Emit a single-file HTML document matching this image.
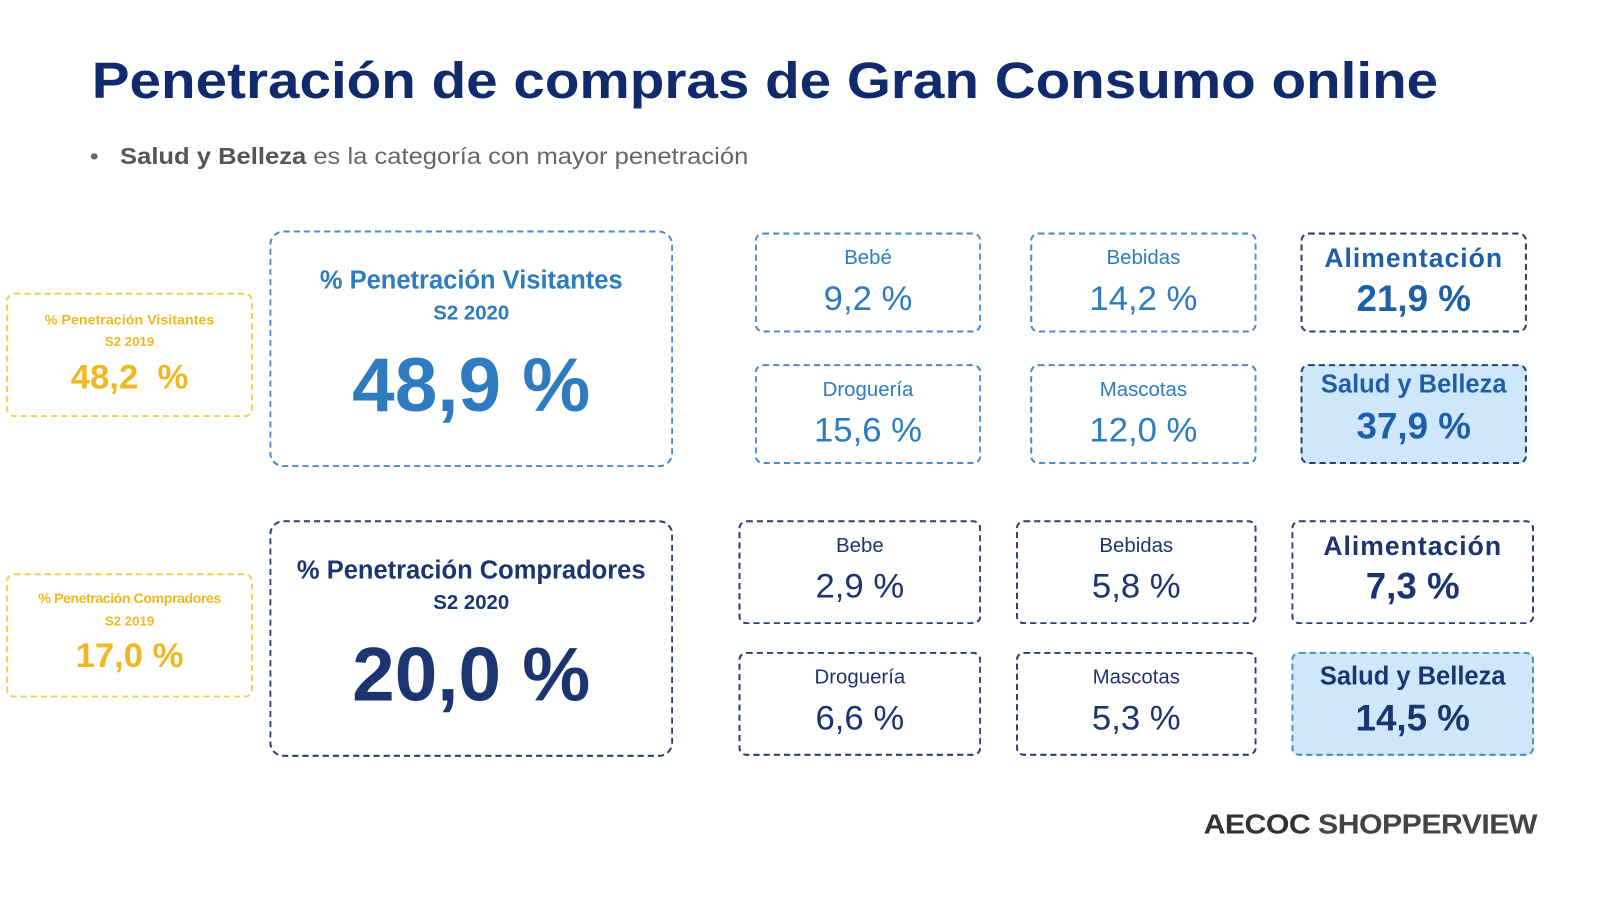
<!DOCTYPE html>
<html><head><meta charset="utf-8"><style>
body{margin:0;width:1600px;height:900px;background:#fff;position:relative;overflow:hidden;font-family:"Liberation Sans","DejaVu Sans",sans-serif}
#w{position:absolute;left:0;top:0;width:1560px;height:878px;transform:scale(1.02);transform-origin:0 0}
.a{position:absolute;box-sizing:border-box;text-align:center}
.box{border:2px dashed;border-radius:8px}
.t{position:absolute;left:0;right:0;text-align:center;white-space:nowrap}
.bl{border-color:#4f8ac6;color:#2e7bc0}
.dk{border-color:#2a3f72;color:#1c3570}
.w{letter-spacing:1px}
</style></head><body><div id="w">
<div class="a" style="left:90px;top:50px;text-align:left;font-size:50px;font-weight:bold;color:#102a6b;white-space:nowrap;transform:scaleX(1.11);transform-origin:0 0">Penetración de compras de Gran Consumo online</div>
<div class="a" style="left:88px;top:140px;text-align:left;font-size:23px;color:#666;white-space:nowrap;transform:scaleX(1.09);transform-origin:0 0">•&nbsp;&nbsp; <b style="color:#555">Salud y Belleza</b> es la categoría con mayor penetración</div>

<div class="a box" style="left:6px;top:287px;width:242px;height:122px;border-color:#f2cf55;color:#f0b820">
<div class="t" style="top:16px;font-size:14px;font-weight:bold">% Penetración Visitantes</div>
<div class="t" style="top:38px;font-size:13px;font-weight:bold">S2 2019</div>
<div class="t" style="top:62px;font-size:34px;font-weight:bold">48,2 &nbsp;%</div></div>
<div class="a box" style="left:6px;top:562px;width:242px;height:122px;border-color:#f2cf55;color:#f0b820">
<div class="t" style="top:14px;font-size:14px;font-weight:bold;letter-spacing:-0.5px">% Penetración Compradores</div>
<div class="t" style="top:37px;font-size:13px;font-weight:bold">S2 2019</div>
<div class="t" style="top:60px;font-size:34px;font-weight:bold">17,0 %</div></div>

<div class="a box bl" style="left:264px;top:226px;width:396px;height:232px;border-radius:14px">
<div class="t" style="top:33px;font-size:25px;font-weight:bold">% Penetración Visitantes</div>
<div class="t" style="top:68px;font-size:20px;font-weight:bold">S2 2020</div>
<div class="t" style="top:106px;font-size:75px;font-weight:bold">48,9 %</div></div>
<div class="a box dk" style="left:264px;top:510px;width:396px;height:232px;border-radius:14px">
<div class="t" style="top:33px;font-size:25px;font-weight:bold">% Penetración Compradores</div>
<div class="t" style="top:68px;font-size:20px;font-weight:bold">S2 2020</div>
<div class="t" style="top:106px;font-size:75px;font-weight:bold">20,0 %</div></div>

<div class="a box bl" style="left:740px;top:228px;width:222px;height:98px"><div class="t" style="top:12px;font-size:20px">Bebé</div><div class="t" style="top:44px;font-size:34px">9,2 %</div></div>
<div class="a box bl" style="left:1010px;top:228px;width:222px;height:98px"><div class="t" style="top:12px;font-size:20px">Bebidas</div><div class="t" style="top:44px;font-size:34px">14,2 %</div></div>
<div class="a box dk" style="left:1275px;top:228px;width:222px;height:98px;color:#1f5fa8"><div class="t w" style="top:8px;font-size:26px;font-weight:bold">Alimentación</div><div class="t" style="top:42px;font-size:36px;font-weight:bold">21,9 %</div></div>
<div class="a box bl" style="left:740px;top:357px;width:222px;height:98px"><div class="t" style="top:12px;font-size:20px">Droguería</div><div class="t" style="top:44px;font-size:34px">15,6 %</div></div>
<div class="a box bl" style="left:1010px;top:357px;width:222px;height:98px"><div class="t" style="top:12px;font-size:20px">Mascotas</div><div class="t" style="top:44px;font-size:34px">12,0 %</div></div>
<div class="a box dk" style="left:1275px;top:357px;width:222px;height:98px;background:#cfe7fa;color:#1f5fa8"><div class="t" style="top:4px;font-size:25px;font-weight:bold">Salud y Belleza</div><div class="t" style="top:38px;font-size:36px;font-weight:bold">37,9 %</div></div>

<div class="a box dk" style="left:724px;top:510px;width:238px;height:102px"><div class="t" style="top:12px;font-size:20px">Bebe</div><div class="t" style="top:44px;font-size:34px">2,9 %</div></div>
<div class="a box dk" style="left:996px;top:510px;width:236px;height:102px"><div class="t" style="top:12px;font-size:20px">Bebidas</div><div class="t" style="top:44px;font-size:34px">5,8 %</div></div>
<div class="a box dk" style="left:1266px;top:510px;width:238px;height:102px"><div class="t w" style="top:8px;font-size:26px;font-weight:bold">Alimentación</div><div class="t" style="top:42px;font-size:36px;font-weight:bold">7,3 %</div></div>
<div class="a box dk" style="left:724px;top:639px;width:238px;height:102px"><div class="t" style="top:12px;font-size:20px">Droguería</div><div class="t" style="top:44px;font-size:34px">6,6 %</div></div>
<div class="a box dk" style="left:996px;top:639px;width:236px;height:102px"><div class="t" style="top:12px;font-size:20px">Mascotas</div><div class="t" style="top:44px;font-size:34px">5,3 %</div></div>
<div class="a box bl" style="left:1266px;top:639px;width:238px;height:102px;background:#cfe7fa;color:#1c3570"><div class="t" style="top:8px;font-size:25px;font-weight:bold">Salud y Belleza</div><div class="t" style="top:42px;font-size:36px;font-weight:bold">14,5 %</div></div>

<div class="a" style="left:1180px;top:793px;font-size:27px;font-weight:bold;color:#333;white-space:nowrap;text-align:left;letter-spacing:-0.5px;transform:scaleX(1.1);transform-origin:0 0">AECOC <span style="color:#444">SHOPPERVIEW</span></div>
</div></body></html>
